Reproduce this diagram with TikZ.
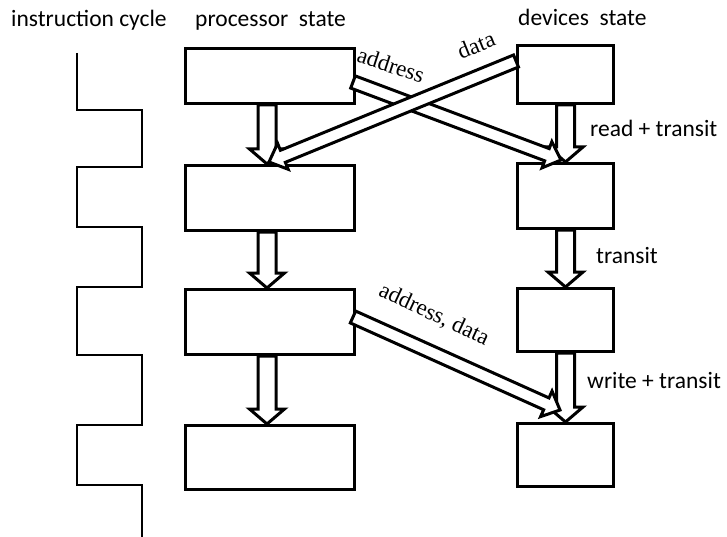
\documentclass[tikz,border=0pt]{standalone}
\usepackage{fontspec}
\setmainfont{Carlito}
\newfontfamily\labserif{Liberation Serif}
\usetikzlibrary{calc}
\tikzset{
  box/.style={draw, line width=3pt, inner sep=0pt, anchor=north west},
  harrow/.style={draw, line width=3pt, fill=white, line join=miter},
  wave/.style={draw, line width=2.6pt, line join=miter},
  hdr/.style={inner sep=0pt, anchor=base west, font=\fontsize{23.5}{27}\selectfont},
  lab/.style={inner sep=0pt, font=\labserif\fontsize{23}{26}\selectfont},
}
\newcommand{\hollowarrow}[5]{%
  \coordinate (hb) at ($(#2)!#5!(#1)$);
  \draw[harrow] ($(#1)!#3!90:(#2)$) -- ($(hb)!#3!-90:(#1)$) -- ($(hb)!#4!-90:(#1)$)
    -- (#2) -- ($(hb)!#4!90:(#1)$) -- ($(hb)!#3!90:(#1)$) -- ($(#1)!#3!-90:(#2)$) -- cycle;
}
\begin{document}
\begin{tikzpicture}[x=1pt,y=-1pt]
\useasboundingbox (0,0) rectangle (727,537);
% headers
\node[hdr] (hic) at (11,27) {instruction cycle};
\node[hdr] (hps) at (195,27) {processor\ \ state};
\node[hdr] (hds) at (518,26) {devices\ \ state};
% square wave
\draw[wave] (77,53) -- (77,110) -- (142,110) -- (142,167) -- (77,167) -- (77,227)
  -- (142,227) -- (142,287) -- (77,287) -- (77,355) -- (142,355) -- (142,425)
  -- (77,425) -- (77,485) -- (142,485) -- (142,537);
% processor boxes
\node[box, minimum width=169pt, minimum height=55pt] (p1) at (184,47) {};
\node[box, minimum width=169pt, minimum height=65pt] (p2) at (184,164) {};
\node[box, minimum width=169pt, minimum height=65pt] (p3) at (184,288) {};
\node[box, minimum width=169pt, minimum height=64pt] (p4) at (184,424) {};
% device boxes
\node[box, minimum width=96pt, minimum height=58pt] (d1) at (516,44) {};
\node[box, minimum width=96pt, minimum height=65pt] (d2) at (516,162) {};
\node[box, minimum width=96pt, minimum height=63pt] (d3) at (516,287) {};
\node[box, minimum width=96pt, minimum height=63pt] (d4) at (516,422) {};
% vertical hollow arrows
\coordinate (v1s) at ($(p1.south)+(-3,0)$); \coordinate (v1e) at ($(p2.north)+(-3,0)$);
\coordinate (v2s) at ($(p2.south)+(-3,0)$); \coordinate (v2e) at ($(p3.north)+(-3,0)$);
\coordinate (v3s) at ($(p3.south)+(-3,0)$); \coordinate (v3e) at ($(p4.north)+(-3,0)$);
\hollowarrow{v1s}{v1e}{9pt}{17.5pt}{15pt}
\hollowarrow{v2s}{v2e}{9pt}{17.5pt}{15pt}
\hollowarrow{v3s}{v3e}{9pt}{17.5pt}{15pt}
\hollowarrow{d1.south}{d2.north}{9pt}{17.5pt}{15pt}
\hollowarrow{d2.south}{d3.north}{9pt}{17.5pt}{15pt}
\hollowarrow{d3.south}{d4.north}{9pt}{17.5pt}{15pt}
% diagonal arrows
\coordinate (as) at (353,82);  \coordinate (ae) at (561,160);
\coordinate (ds) at (516,61);  \coordinate (de) at (269,162);
\coordinate (ws) at (353,317); \coordinate (we) at (560,410);
\hollowarrow{as}{ae}{6.5pt}{14pt}{15pt}
\hollowarrow{ds}{de}{6.5pt}{14pt}{15pt}
\hollowarrow{ws}{we}{6.5pt}{14pt}{15pt}
% labels
\node[lab, rotate=-18] (la) at (391,65) {address};
\node[lab, rotate=22] (ld) at (476,45) {data};
\node[lab, rotate=-25] (lw) at (434,315) {address, data};
\node[hdr] (lr) at (590,137) {read + transit};
\node[hdr] (lt) at (596,263) {transit};
\node[hdr] (lwt) at (587,388) {write + transit};
\end{tikzpicture}
\end{document}
